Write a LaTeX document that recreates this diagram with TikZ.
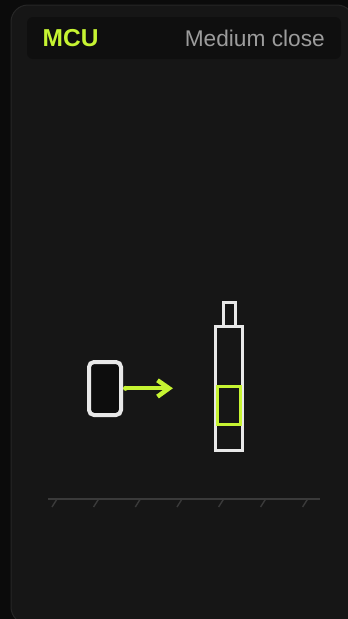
\documentclass[tikz,border=0pt]{standalone}
\usepackage{fontspec}
\setmainfont{Liberation Sans}
\definecolor{bgc}{HTML}{0B0B0B}
\definecolor{cardc}{HTML}{161616}
\definecolor{cardline}{HTML}{262626}
\definecolor{headc}{HTML}{0F0F0F}
\definecolor{limec}{HTML}{C6F432}
\definecolor{greyt}{HTML}{9C9C9C}
\definecolor{whitec}{HTML}{E8E8E8}
\definecolor{groundc}{HTML}{3A3A3A}
\tikzset{
  outline/.style={draw=whitec, line width=3pt},
  limeline/.style={draw=limec, line width=3pt},
  groundline/.style={draw=groundc, line width=2pt},
  tickline/.style={draw=groundc, line width=1.4pt},
}
\begin{document}
\begin{tikzpicture}[x=1pt,y=-1pt]
\useasboundingbox (0,0) rectangle (348,619);
\fill[bgc] (0,0) rectangle (348,619);
% card
\filldraw[fill=cardc, draw=cardline, line width=1pt, rounded corners=17pt] (11,5) rectangle (354,624);
% header
\fill[headc, rounded corners=6pt] (27,17) rectangle (341,59);
\node[anchor=base west, inner sep=0, text=limec, font=\fontsize{24.5}{24}\selectfont\bfseries] (title) at (42.5,46) {MCU};
\node[anchor=base east, inner sep=0, text=greyt, font=\fontsize{22.7}{23}\selectfont] (shot) at (325,46) {Medium close};
% phone
\node[draw=whitec, line width=4pt, fill=black!95!white, rounded corners=5pt, minimum width=32pt, minimum height=53pt, inner sep=0, outer sep=0, anchor=north west] (phone) at (89,362) {};
% arrow
\coordinate (tail) at (125.5,388.3);
\coordinate (tip) at (170.5,388.3);
\fill[limec] (tail) circle (2.5pt);
\draw[draw=limec, line width=4pt] (tail) -- ([xshift=-1.5pt]tip);
\draw[draw=limec, line width=4.5pt, line join=miter] ([xshift=-13pt,yshift=-8.3pt]tip) -- ([xshift=-1.5pt]tip) -- ([xshift=-13pt,yshift=8pt]tip);
% tube
\node[outline, minimum width=27.3pt, minimum height=123.7pt, inner sep=0, outer sep=0, anchor=north west] (tube) at (215.5,326.5) {};
\node[outline, minimum width=12pt, minimum height=24pt, inner sep=0, outer sep=0, anchor=south] (cap) at (tube.north) {};
\node[limeline, minimum width=22.7pt, minimum height=38pt, inner sep=0, outer sep=0, anchor=north west] (focus) at (217.5,386.5) {};
% ground
\coordinate (g1) at (48,498.5);
\coordinate (g2) at (320,498.5);
\draw[groundline] (g1) -- (g2);
\foreach \x in {56.7,98.3,140,181.7,223.3,265.3,307.3}{
  \draw[tickline] (\x,499.5) -- (\x-4.7,507);
}
\end{tikzpicture}
\end{document}
